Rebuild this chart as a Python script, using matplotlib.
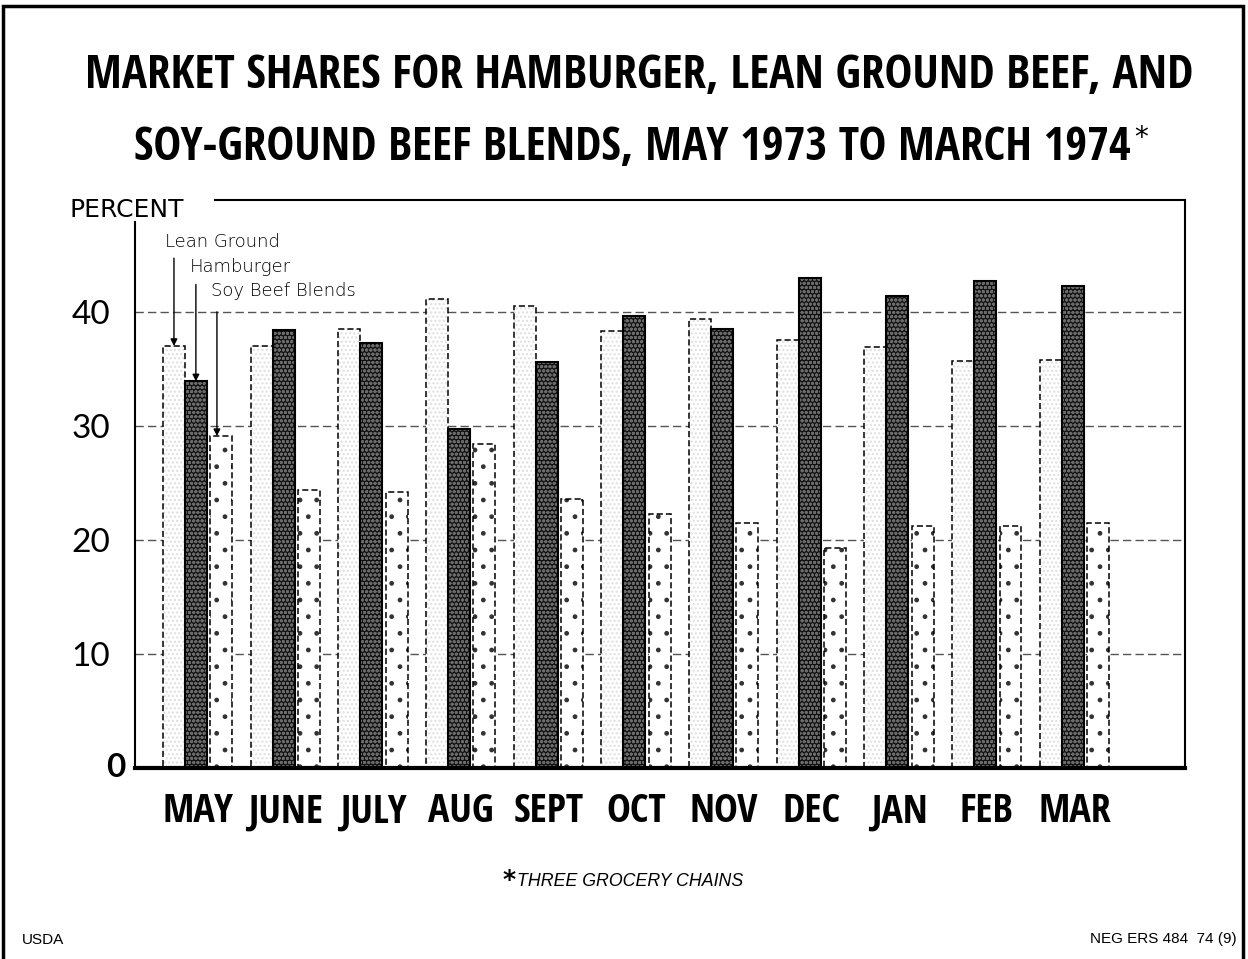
import numpy as np
import matplotlib
matplotlib.use("Agg")
import matplotlib.pyplot as plt
from matplotlib import font_manager
from matplotlib.font_manager import FontProperties
from matplotlib.patches import Rectangle

# data (percent of sales, three grocery chains)
months = ["MAY", "JUNE", "JULY", "AUG", "SEPT", "OCT", "NOV", "DEC", "JAN", "FEB", "MAR"]
lean_ground = [37.0, 37.0, 38.5, 41.1, 40.5, 38.3, 39.4, 37.5, 36.9, 35.7, 35.8]
hamburger = [33.9, 38.4, 37.3, 29.7, 35.6, 39.6, 38.5, 43.0, 41.4, 42.7, 42.3]
soy_blends = [29.1, 24.4, 24.2, 28.4, 23.6, 22.3, 21.5, 19.3, 21.2, 21.2, 21.5]
y_ticks = [10, 20, 30, 40]


def condensed_bold():
    # look for any installed condensed / narrow bold sans face
    best = None
    for f in font_manager.fontManager.ttflist:
        fn = f.fname.lower()
        if "italic" in fn or "oblique" in fn:
            continue
        is_cond = "condensed" in str(f.stretch).lower() or "condensed" in fn or "narrow" in fn
        is_bold = f.weight in ("bold", 700) or "bold" in fn
        if is_cond and is_bold:
            if best is None or "sans" in fn:
                best = f.fname
    if best:
        return FontProperties(fname=best)
    return FontProperties(family="DejaVu Sans", weight="bold")


HEAD = condensed_bold()

fig = plt.figure(figsize=(12.48, 9.59), dpi=100)
ax = fig.add_axes([0.1082, 0.1992, 0.8413, 0.5922])
renderer = fig.canvas.get_renderer()

x = np.arange(len(months))
w = 0.25
gap = 0.04
x_lean = x - 0.395
x_ham = x_lean + w
x_soy = x_ham + w + gap

# lean ground: faint stipple, dashed outline
ax.bar(x_lean, lean_ground, w, align="edge", facecolor="white", edgecolor="#dedede",
       hatch="....", linewidth=0, zorder=2)
ax.bar(x_lean, lean_ground, w, align="edge", fill=False, edgecolor="black",
       linewidth=1.1, linestyle=(0, (4, 2)), zorder=3)
# hamburger: dark speckled
ax.bar(x_ham, hamburger, w, align="edge", facecolor="#121212", edgecolor="#6a6a6a",
       hatch="oooo", linewidth=0, zorder=2)
ax.bar(x_ham, hamburger, w, align="edge", fill=False, edgecolor="black",
       linewidth=1.5, zorder=3)
# soy beef blends: sparse dots, dashed outline
ax.bar(x_soy, soy_blends, w, align="edge", facecolor="white", edgecolor="#333333",
       hatch=".", linewidth=0, zorder=2)
ax.bar(x_soy, soy_blends, w, align="edge", fill=False, edgecolor="black",
       linewidth=1.1, linestyle=(0, (4, 2)), zorder=3)

ax.set_xlim(-0.714, 11.26)
ax.set_ylim(0, 49.8)

ax.set_yticks(y_ticks)
ax.set_yticklabels([str(t) for t in y_ticks], family="Lato", fontsize=24)
ax.tick_params(axis="y", length=0, pad=18)
ax.annotate("0", xy=(0, 0), xycoords=("axes fraction", "data"), xytext=(-7, 0),
            textcoords="offset points", ha="right", va="center",
            family="Lato", fontweight="bold", fontsize=24)

# month labels: fit the widest one into ~70 px, at most 30 pt
probe = fig.text(0, 0, "SEPT", fontproperties=HEAD, fontsize=30)
month_size = min(30, 30 * 70 / probe.get_window_extent(renderer).width)
probe.remove()
ax.set_xticks(x)
ax.set_xticklabels(months, fontproperties=HEAD, fontsize=month_size)
ax.tick_params(axis="x", length=0, pad=17 + (30 - month_size) * 0.35)

ax.yaxis.grid(True, color="#555555", linewidth=1.0, linestyle=(0, (6, 3)))
ax.set_axisbelow(True)

ax.spines["top"].set_visible(False)
ax.spines["bottom"].set_linewidth(3)
ax.spines["left"].set_linewidth(1.5)
ax.spines["right"].set_linewidth(1.5)
ax.spines["left"].set_bounds(0, 47.9)
ax.plot([0.076, 1.0], [1.0, 1.0], transform=ax.transAxes, color="black",
        linewidth=1.5, clip_on=False)

ax.text(-0.062, 0.982, "PERCENT", transform=ax.transAxes, ha="left", va="center",
        family="DejaVu Sans", fontsize=18)

# arrow labels for the three series (pointing at the MAY bars)
labels = [("Lean Ground", x_lean[0] + w / 2, lean_ground[0], 46.1, 44.7, -0.372),
          ("Hamburger", x_ham[0] + w / 2, hamburger[0], 43.9, 42.4, -0.087),
          ("Soy Beef Blends", x_soy[0] + w / 2 - 0.05, soy_blends[0], 41.8, 40.0, 0.153)]
for name, bx, top, ty, ay, tx in labels:
    ax.text(tx, ty, name, ha="left", va="center", family="DejaVu Sans",
            fontsize=13, fontweight="light", zorder=5)
    ax.annotate("", xy=(bx, top), xytext=(bx, ay),
                arrowprops=dict(arrowstyle="-|>", color="black", lw=1.0,
                                mutation_scale=10, shrinkA=0, shrinkB=0), zorder=5)

# title, sized to the reference line width (about 1108 px), at most 42 pt
t1 = fig.text(0.512, 0.9208, "MARKET SHARES FOR HAMBURGER, LEAN GROUND BEEF, AND",
              ha="center", va="center", fontproperties=HEAD, fontsize=42)
title_size = min(42, 42 * 1108 / t1.get_window_extent(renderer).width)
t1.set_fontsize(title_size)
t2 = fig.text(0.507, 0.8457, "SOY-GROUND BEEF BLENDS, MAY 1973 TO MARCH 1974",
              ha="center", va="center", fontproperties=HEAD, fontsize=title_size)
ax.annotate("*", xy=(1.0, 1.0), xycoords=t2, xytext=(2, 0), textcoords="offset points",
            ha="left", va="top", fontsize=20, annotation_clip=False)

# footnote and credits
fig.text(0.403, 0.0824, "*", ha="left", va="center", fontsize=18, fontweight="bold")
fig.text(0.414, 0.0810, "THREE GROCERY CHAINS", ha="left", va="center",
         family="Liberation Sans", style="italic", fontsize=12.8)
fig.text(0.0176, 0.0198, "USDA", ha="left", va="center", family="Liberation Sans",
         fontsize=11)
fig.text(0.991, 0.0208, "NEG ERS 484  74 (9)", ha="right", va="center",
         family="Liberation Sans", fontsize=11)

# outer frame
fig.patches.append(Rectangle((0.0025, -0.02), 0.9935, 1.0137, transform=fig.transFigure,
                             fill=False, edgecolor="black", linewidth=2.5, clip_on=False))

fig.savefig("out.png", dpi=100, facecolor="white")
